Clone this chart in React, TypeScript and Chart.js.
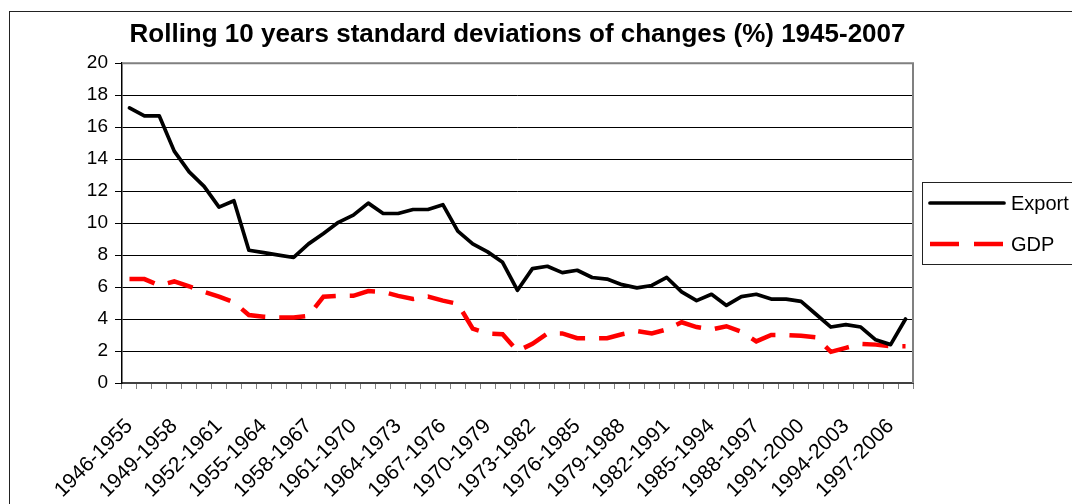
import React, { useEffect, useRef } from 'react';
import { Chart, registerables } from 'chart.js';

Chart.register(...registerables);

const periods = [
  '1946-1955', '1947-1956', '1948-1957', '1949-1958', '1950-1959', '1951-1960', '1952-1961',
  '1953-1962', '1954-1963', '1955-1964', '1956-1965', '1957-1966', '1958-1967', '1959-1968',
  '1960-1969', '1961-1970', '1962-1971', '1963-1972', '1964-1973', '1965-1974', '1966-1975',
  '1967-1976', '1968-1977', '1969-1978', '1970-1979', '1971-1980', '1972-1981', '1973-1982',
  '1974-1983', '1975-1984', '1976-1985', '1977-1986', '1978-1987', '1979-1988', '1980-1989',
  '1981-1990', '1982-1991', '1983-1992', '1984-1993', '1985-1994', '1986-1995', '1987-1996',
  '1988-1997', '1989-1998', '1990-1999', '1991-2000', '1992-2001', '1993-2002', '1994-2003',
  '1995-2004', '1996-2005', '1997-2006', '1998-2007',
];

const exportValues = [
  17.2, 16.7, 16.7, 14.5, 13.2, 12.3, 11.0, 11.4, 8.3, 8.15,
  8.0, 7.85, 8.7, 9.35, 10.05, 10.5, 11.25, 10.6, 10.6, 10.85,
  10.85, 11.15, 9.5, 8.7, 8.2, 7.55, 5.8, 7.15, 7.3, 6.9,
  7.05, 6.6, 6.5, 6.15, 5.95, 6.1, 6.6, 5.7, 5.15, 5.55,
  4.85, 5.4, 5.55, 5.25, 5.25, 5.1, 4.3, 3.5, 3.65, 3.5,
  2.7, 2.4, 4.0,
];

const gdpValues = [
  6.5, 6.5, 6.1, 6.35, 6.05, 5.7, 5.4, 5.05, 4.25, 4.15,
  4.1, 4.1, 4.2, 5.4, 5.45, 5.45, 5.75, 5.7, 5.45, 5.25,
  5.4, 5.15, 4.95, 3.4, 3.1, 3.05, 2.0, 2.45, 3.1, 3.1,
  2.8, 2.8, 2.8, 3.05, 3.25, 3.1, 3.35, 3.8, 3.5, 3.35,
  3.55, 3.2, 2.6, 3.0, 3.0, 2.95, 2.85, 1.95, 2.2, 2.45,
  2.4, 2.3, 2.3,
];

const seriesNames = ['Export', 'GDP'];
const titleText = 'Rolling 10 years standard deviations of changes (%) 1945-2007';

const FONT = "'Liberation Sans', Arial, sans-serif";
const CANVAS_W = 1110;
const CANVAS_H = 540;

const framePlugin = {
  id: 'frame',
  beforeDraw(chart: any) {
    const ctx = chart.ctx;
    ctx.save();
    ctx.fillStyle = '#fff';
    ctx.fillRect(0, 0, chart.width, chart.height);
    ctx.strokeStyle = '#222';
    ctx.lineWidth = 1;
    ctx.strokeRect(9.5, 11.5, 1400, 800);
    ctx.restore();
  },
  afterDraw(chart: any) {
    const ctx = chart.ctx;
    const a = chart.chartArea;
    ctx.save();
    ctx.strokeStyle = '#808080';
    ctx.lineWidth = 2;
    ctx.beginPath();
    ctx.moveTo(a.left, a.top);
    ctx.lineTo(a.right, a.top);
    ctx.lineTo(a.right, a.bottom);
    ctx.stroke();

    const lx = 922;
    const ly = 182;
    ctx.strokeStyle = '#222';
    ctx.lineWidth = 1;
    ctx.strokeRect(lx + 0.5, ly + 0.5, 180, 82);
    const rows = [203, 244];
    chart.data.datasets.forEach((ds: any, i: number) => {
      const y = rows[i];
      ctx.strokeStyle = ds.borderColor;
      ctx.lineWidth = ds.borderWidth;
      ctx.lineCap = i === 0 ? 'round' : 'butt';
      ctx.setLineDash(i === 0 ? [] : [29, 15]);
      ctx.beginPath();
      ctx.moveTo(930, y);
      ctx.lineTo(1004, y);
      ctx.stroke();
      ctx.setLineDash([]);
      ctx.fillStyle = '#000';
      ctx.font = `20px ${FONT}`;
      ctx.textBaseline = 'middle';
      ctx.textAlign = 'left';
      ctx.fillText(ds.label, 1011, y + 1);
    });
    ctx.restore();
  },
};

export default function App() {
  const ref = useRef<HTMLCanvasElement | null>(null);

  useEffect(() => {
    if (!ref.current) return;
    const chart = new Chart(ref.current, {
      type: 'line',
      data: {
        labels: periods,
        datasets: [
          {
            label: seriesNames[0],
            data: exportValues,
            borderColor: '#000000',
            borderWidth: 3.7,
            pointRadius: 0,
            tension: 0,
            borderCapStyle: 'round',
            borderJoinStyle: 'round',
            fill: false,
          },
          {
            label: seriesNames[1],
            data: gdpValues,
            borderColor: '#ff0000',
            borderWidth: 4.5,
            borderDash: [26, 14],
            pointRadius: 0,
            tension: 0,
            borderCapStyle: 'butt',
            fill: false,
          },
        ],
      },
      options: {
        responsive: false,
        animation: false,
        devicePixelRatio: 1,
        layout: { padding: { left: 0, right: CANVAS_W - 913, top: 0, bottom: 0 } },
        plugins: {
          legend: { display: false },
          tooltip: { enabled: false },
          title: {
            display: true,
            text: titleText,
            fullSize: false,
            color: '#000',
            font: { family: FONT, size: 26, weight: 'bold', lineHeight: 1.2 },
            padding: { top: 19, bottom: 13 },
          },
        },
        scales: {
          x: {
            type: 'category',
            offset: true,
            afterFit: (s: any) => { s.height = CANVAS_H - 383; },
            grid: {
              display: true,
              drawOnChartArea: false,
              drawTicks: true,
              tickLength: 6,
              color: '#808080',
              offset: true,
            },
            border: { display: true, color: '#404040', width: 2 },
            ticks: {
              autoSkip: false,
              minRotation: 45,
              maxRotation: 45,
              padding: 25,
              labelOffset: 0,
              color: '#000',
              font: { family: FONT, size: 21 },
              callback: function (this: any, val: any, index: number) {
                return index % 3 === 0 ? this.getLabelForValue(val) : '';
              },
            },
          },
          y: {
            min: 0,
            max: 20,
            afterFit: (s: any) => { s.width = 122; },
            grid: {
              color: '#000',
              lineWidth: 1,
              drawTicks: true,
              tickLength: 7,
            },
            border: { display: true, color: '#000', width: 1.5 },
            ticks: {
              stepSize: 2,
              padding: 7,
              color: '#000',
              font: { family: FONT, size: 19 },
            },
          },
        },
      },
      plugins: [framePlugin],
    });
    return () => chart.destroy();
  }, []);

  return (
    <div
      style={{
        position: 'fixed',
        left: 0,
        top: 0,
        width: 1072,
        height: 504,
        overflow: 'hidden',
        background: '#fff',
      }}
    >
      <canvas
        ref={ref}
        width={CANVAS_W}
        height={CANVAS_H}
        style={{ position: 'absolute', left: 0, top: 0, width: CANVAS_W, height: CANVAS_H }}
      />
    </div>
  );
}
